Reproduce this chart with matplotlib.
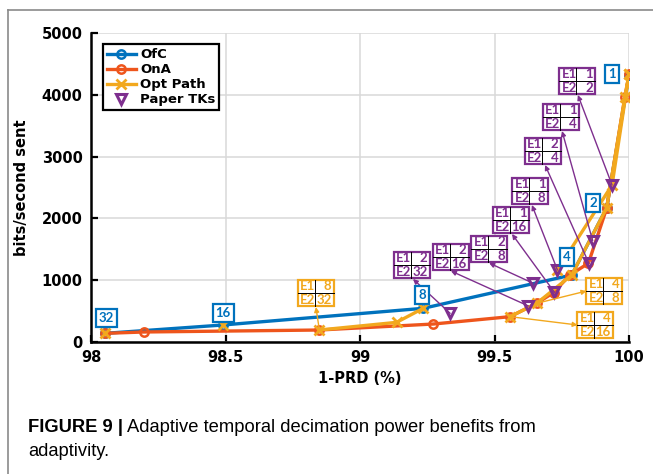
import numpy as np
import matplotlib
matplotlib.use("Agg")
import matplotlib.pyplot as plt
from matplotlib.patches import Rectangle
from matplotlib.lines import Line2D

# ---- data ----
ofc_x = [98.052, 98.49, 99.235, 99.787, 99.917, 100.0]
ofc_y = [140, 275, 545, 1084, 2170, 4320]
ofc_labels = ["32", "16", "8", "4", "2", "1"]

ona_x = [98.052, 98.197, 98.849, 99.273, 99.558, 99.657, 99.72, 99.78, 99.849, 99.917, 99.985, 100.0]
ona_y = [140, 162, 194, 291, 410, 626, 800, 1084, 1273, 2163, 3970, 4330]

opt_x = [98.052, np.nan, 98.49, np.nan, 98.849, 99.136, 99.235, np.nan,
         99.558, 99.657, 99.787, 99.917, 99.985, 100.0, np.nan, 99.734, 99.937, 100.0]
opt_y = [140, np.nan, 275, np.nan, 194, 318, 545, np.nan,
         410, 626, 1084, 2170, 3970, 4330, np.nan, 1165, 2540, 4330]

tk_x = [99.335, 99.626, 99.644, 99.723, 99.734, 99.851, 99.865, 99.937]
tk_y = [464, 583, 950, 804, 1165, 1273, 1640, 2540]
tk_e1 = ["2", "2", "2", "1", "1", "2", "1", "1"]
tk_e2 = ["32", "16", "8", "16", "8", "4", "4", "2"]

# yellow (opt path) table labels: which opt point they describe
opt_tab_x = [98.849, 99.657, 99.558]
opt_tab_y = [194, 626, 410]
opt_e1 = ["8", "4", "4"]
opt_e2 = ["32", "8", "16"]

# ---- layout of annotation boxes (data coords) ----
ofc_lab_pos = [(98.056, 388), (98.491, 469), (99.230, 760), (99.770, 1375), (99.866, 2249), (99.937, 4337)]
tk_box = [(99.193, 1246), (99.338, 1375), (99.480, 1505), (99.561, 1974),
          (99.632, 2443), (99.680, 3091), (99.747, 3641), (99.807, 4223)]
tk_anchor = [(99.197, 1019), (99.338, 1149), (99.480, 1278), (99.565, 1748),
             (99.639, 2217), (99.688, 2864), (99.751, 3414), (99.810, 3997)]
opt_box = [(98.836, 793), (99.907, 825), (99.874, 275)]
opt_anchor = [(98.836, 566), (99.842, 825), (99.809, 275)]

C_OFC = "#0072BD"
C_ONA = "#EE551C"
C_OPT = "#F2A81E"
C_TK = "#7E2F8E"

plt.rcParams["font.family"] = ["DejaVu Sans"]

fig = plt.figure(figsize=(6.53, 4.74), dpi=100)
ax = fig.add_axes([91 / 653, 1 - 342 / 474, 538 / 653, 309 / 474])

ax.plot(ofc_x, ofc_y, color=C_OFC, lw=2.4, marker="o", ms=6, mfc="none", mew=1.8, label="OfC", zorder=3)
ax.plot(ona_x, ona_y, color=C_ONA, lw=2.4, marker="o", ms=6, mfc="none", mew=1.8, label="OnA", zorder=3)
ax.plot(opt_x, opt_y, color=C_OPT, lw=2.4, marker="x", ms=7, mew=2, label="Opt Path", zorder=4)
ax.plot(tk_x, tk_y, ls="none", marker="v", ms=7.5, mfc="none", mec=C_TK, mew=2.2,
        label="Paper TKs", zorder=5)

ax.set_xlim(98, 100)
ax.set_ylim(0, 5000)
ax.set_xticks([98, 98.5, 99, 99.5, 100])
ax.set_xticklabels(["98", "98.5", "99", "99.5", "100"])
ax.set_yticks([0, 1000, 2000, 3000, 4000, 5000])
ax.grid(True, color="#d9d9d9", lw=1.1)
ax.set_axisbelow(True)
for s in ["top", "right"]:
    ax.spines[s].set_visible(False)
for s in ["left", "bottom"]:
    ax.spines[s].set_linewidth(1.8)
ax.tick_params(direction="in", length=5, width=1.6, labelsize=10.5, pad=6)
for t in ax.get_xticklabels() + ax.get_yticklabels():
    t.set_fontweight("bold")
ax.set_xlabel("1-PRD (%)", fontsize=10.5, fontweight="bold", labelpad=4)
ax.set_ylabel("bits/second sent", fontsize=10.5, fontweight="bold", labelpad=9)

leg = ax.legend(loc="upper left", bbox_to_anchor=(0.01, 0.985), prop={"weight": "bold", "size": 9.5},
                handlelength=2.2, handletextpad=0.3, labelspacing=0.15, borderpad=0.3,
                fancybox=False, framealpha=1)
leg.get_frame().set_edgecolor("black")
leg.get_frame().set_linewidth(1.6)

HW, HH = 0.066, 218  # half width / half height of table boxes


def table_box(cx, cy, v1, v2, color):
    x0, x1 = cx - HW, cx + HW
    y0, y1 = cy - HH, cy + HH
    xm = cx - 0.004
    ax.add_patch(Rectangle((x0, y0), 2 * HW, 2 * HH, fc="white", ec=color, lw=1.6, zorder=8))
    ax.plot([xm, xm], [y0, y1], color="k", lw=0.7, zorder=9)
    ax.plot([x0, x1], [cy, cy], color="k", lw=0.7, zorder=9)
    kw = dict(va="center", color=color, fontsize=9.5, family="Lato", fontweight="bold", zorder=10)
    ax.text(x0 + 0.008, cy + HH / 2, "E1", ha="left", **kw)
    ax.text(x0 + 0.008, cy - HH / 2, "E2", ha="left", **kw)
    ax.text(x1 - 0.008, cy + HH / 2, v1, ha="right", **kw)
    ax.text(x1 - 0.008, cy - HH / 2, v2, ha="right", **kw)


def arrow(pt, tip, color):
    ax.annotate("", xy=tip, xytext=pt,
                arrowprops=dict(arrowstyle="-|>", color=color, lw=1.0, mutation_scale=7,
                                shrinkA=0, shrinkB=0), zorder=6)


for i in range(len(tk_x)):
    arrow((tk_x[i], tk_y[i]), tk_anchor[i], C_TK)
    table_box(tk_box[i][0], tk_box[i][1], tk_e1[i], tk_e2[i], C_TK)

for i in range(len(opt_tab_x)):
    arrow((opt_tab_x[i], opt_tab_y[i]), opt_anchor[i], C_OPT)
    table_box(opt_box[i][0], opt_box[i][1], opt_e1[i], opt_e2[i], C_OPT)

for (lx, ly), lab in zip(ofc_lab_pos, ofc_labels):
    ax.text(lx, ly, lab, ha="center", va="center", color=C_OFC, fontsize=9.5, family="Lato",
            fontweight="bold", zorder=10,
            bbox=dict(boxstyle="square,pad=0.22", fc="white", ec=C_OFC, lw=1.6))

# outer panel frame
fig.add_artist(Line2D([8 / 653, 1], [1 - 10 / 474] * 2, transform=fig.transFigure, color="#8a8a8a", lw=1.2))
fig.add_artist(Line2D([8 / 653] * 2, [0, 1 - 10 / 474], transform=fig.transFigure, color="#8a8a8a", lw=1.2))

# caption
cap_fam = ["Liberation Sans Narrow", "Liberation Sans"]
t1 = fig.text(28 / 653, 1 - 427 / 474, "FIGURE 9 |", fontsize=13.2, fontweight="bold",
              family=cap_fam, va="center", ha="left")
fig.canvas.draw()
bb = t1.get_window_extent(fig.canvas.get_renderer())
fig.text((bb.x1 + 4) / 653, 1 - 427 / 474, "Adaptive temporal decimation power benefits from",
         fontsize=13.2, family=cap_fam, va="center", ha="left")
fig.text(28 / 653, 1 - 452 / 474, "adaptivity.", fontsize=13.2, family=cap_fam, va="center", ha="left")

fig.savefig("out.png", dpi=100)
